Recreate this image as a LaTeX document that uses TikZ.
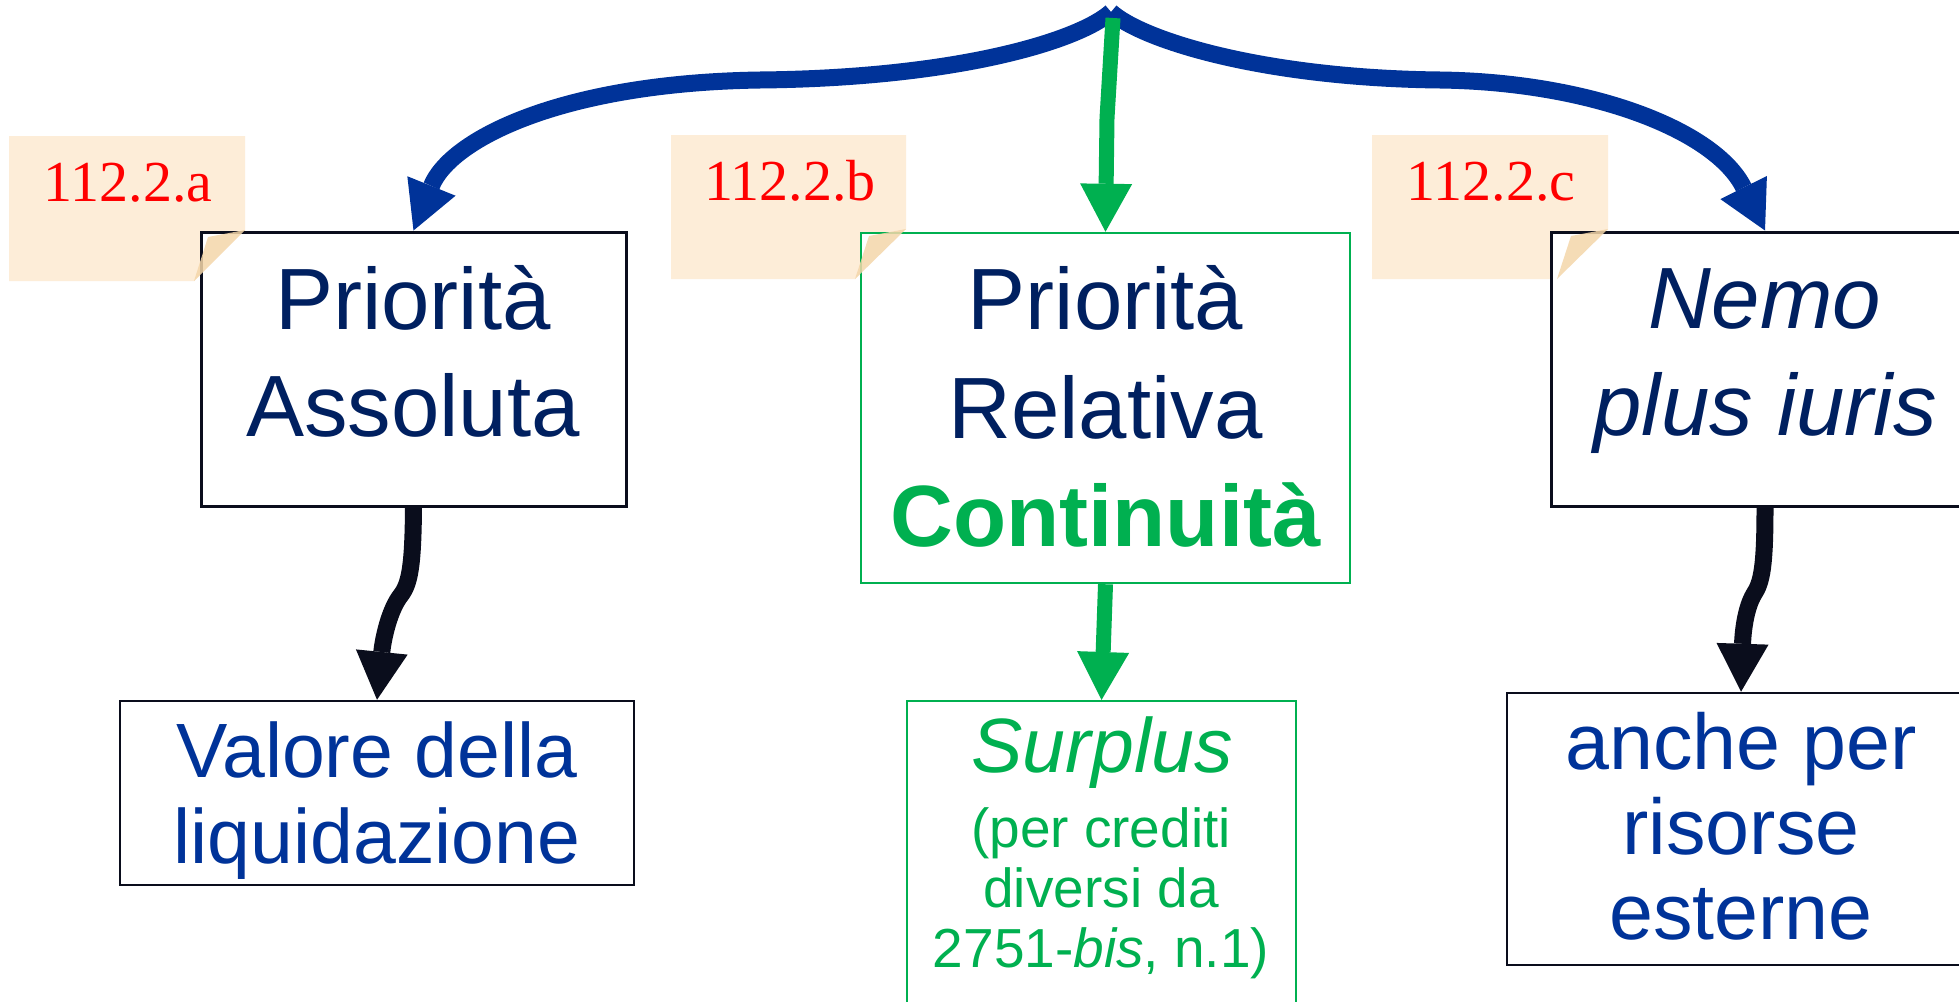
\documentclass[tikz,border=0pt]{standalone}
\usepackage{fontspec}
\setmainfont{Liberation Sans}
\newfontfamily\notefont{Liberation Serif}
\usetikzlibrary{arrows.meta,calc}
\definecolor{navy}{HTML}{002060}
\definecolor{royal}{HTML}{003399}
\definecolor{pgreen}{HTML}{00B050}
\definecolor{notefill}{HTML}{FDEDD8}
\definecolor{notefold}{HTML}{F4D6AA}
\definecolor{inkblack}{HTML}{0A0D1C}
\definecolor{notered}{HTML}{FF0000}
\newcommand{\fsbig}{\fontsize{87}{107}\selectfont}
\newcommand{\fsbigB}{\fontsize{87}{108.5}\selectfont}
\newcommand{\fsmid}{\fontsize{77}{86}\selectfont}
\newcommand{\fsmidF}{\fontsize{79}{85}\selectfont}
\newcommand{\fssmall}{\fontsize{55}{60}\selectfont}
\newcommand{\fsnote}{\fontsize{58}{60}\selectfont}
\begin{document}
\begin{tikzpicture}[x=1pt,y=-1pt,
  box/.style={draw=inkblack, line width=3pt, fill=white, inner sep=0pt, rectangle},
  gbox/.style={box, draw=pgreen},
  txt/.style={inner sep=0pt, align=center},
  notelabel/.style={inner sep=0pt, anchor=base, text=notered, font=\notefont\fsnote},
  note/.style={fill=notefill},
  fold/.style={fill=notefold, opacity=0.85},
  tipx/.style={-{Triangle[width=52pt,length=48pt,line width=0pt]}},
  bluearrow/.style={draw=royal, line width=17pt, tipx},
  greenarrow/.style={draw=pgreen, line width=15pt, tipx, line join=round},
  blackarrow/.style={draw=inkblack, line width=17pt, tipx}
]
\clip (0,0) rectangle (1959,1001);
\fill[white] (0,0) rectangle (1959,1001);

% sticky notes
\fill[note] (9,136) -- (245,136) -- (245,230) -- (194,281) -- (9,281) -- cycle;
\fill[note] (671,135) -- (906,135) -- (906,229) -- (855,279) -- (671,279) -- cycle;
\fill[note] (1372,135) -- (1608,135) -- (1608,229) -- (1557,279) -- (1372,279) -- cycle;
\node[notelabel] (la) at (128,201) {112.2.a};
\node[notelabel] (lb) at (790,200) {112.2.b};
\node[notelabel] (lc) at (1491,200) {112.2.c};

% boxes
\node[box, minimum width=425pt, minimum height=274pt] (boxA) at (413.5,369) {};
\node[gbox, line width=2.5pt, minimum width=489pt, minimum height=350pt] (boxB) at (1105.5,408) {};
\node[box, minimum width=428pt, minimum height=274pt] (boxC) at (1765,369) {};
\node[box, line width=2.5pt, minimum width=514pt, minimum height=184pt] (boxD) at (377,793) {};
\node[gbox, line width=2pt, minimum width=389pt, minimum height=309pt] (boxE) at (1101.5,855.5) {};
\node[box, line width=2.5pt, minimum width=468pt, minimum height=272pt] (boxF) at (1741,829) {};

% folded corners
\fill[fold] (245,230) -- (208,237) -- (194,281) -- cycle;
\fill[fold] (906,229) -- (869,236) -- (855,279) -- cycle;
\fill[fold] (1608,229) -- (1571,236) -- (1557,279) -- cycle;

% connectors
\coordinate (top) at (1111,12);
\coordinate (greentop) at (1113,18);
\draw[bluearrow] (top) .. controls (1080,40) and (960,78) .. (760,80)
   .. controls (560,83) and (450,140) .. (boxA.north);
\draw[bluearrow] (top) .. controls (1142,40) and (1262,78) .. (1440,80)
   .. controls (1590,82) and (1715,130) .. (boxC.north);
\draw[greenarrow] (greentop) -- (1107,118) -- (boxB.north);
\draw[greenarrow] (boxB.south) -- (boxE.north);
\draw[blackarrow] (boxA.south) .. controls (413,565) and (410,583) .. (401,595)
   .. controls (389,610) and (383,640) .. (boxD.north);
\draw[blackarrow] (boxC.south) .. controls (1765,565) and (1762,582) .. (1754,594)
   .. controls (1746,607) and (1743,630) .. (boxF.north);

% texts
\node[txt, text=navy, font=\fsbig] (tA) at (413,351.5) {Priorità\\Assoluta};
\node[txt, text=navy, font=\fsbigB] (tB) at (1105.5,406.5) {Priorità\\Relativa\\\textcolor{pgreen}{\bfseries Continuità}};
\node[txt, text=navy, font=\fsbig\itshape] (tC) at (1765,361.5) {Nemo\\plus iuris};
\node[txt, text=royal, font=\fsmid] (tD) at (377,800.5) {Valore della\\liquidazione};
\node[txt, text=royal, font=\fsmidF] (tF) at (1741,826.5) {anche per\\risorse\\esterne};
\node[txt, text=pgreen, font=\fsmid\itshape] (tE1) at (1102,753) {Surplus};
\node[txt, text=pgreen, font=\fssmall] (tE2) at (1101,893) {(per crediti\\diversi da\\2751-\textit{bis}, n.1)};
\end{tikzpicture}
\end{document}
